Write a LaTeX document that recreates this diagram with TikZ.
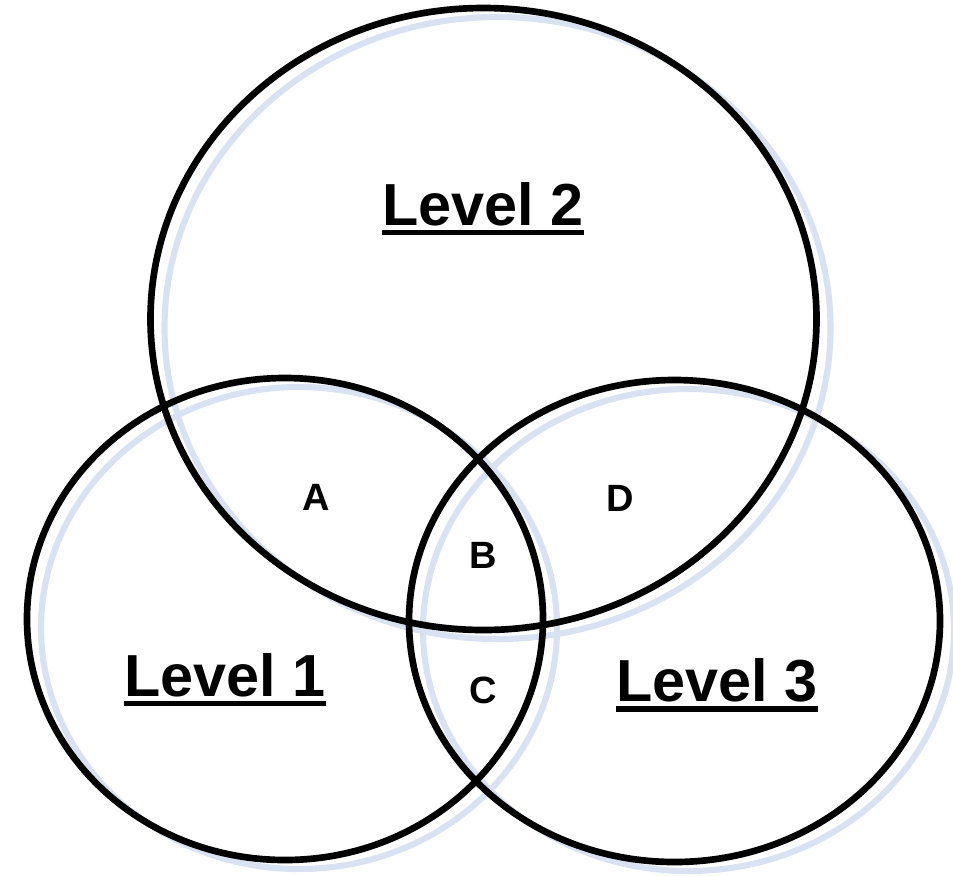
\documentclass[tikz,border=0pt]{standalone}
\usepackage{fontspec}
\setmainfont{Liberation Sans}
\newcommand\ulword[1]{\vtop{\hbox{#1}\kern3pt\hrule height 4pt}}
\definecolor{shadowblue}{RGB}{217,226,243}
\begin{document}
\begin{tikzpicture}[x=0.75pt,y=-0.75pt,line join=round,line cap=round,
	ring/.style={line width=5pt,draw=black},
	ringshadow/.style={line width=4.6pt,draw=shadowblue},
	lvl/.style={font=\fontsize{44.5}{50}\selectfont\bfseries},
	region/.style={font=\fontsize{28.5}{32}\selectfont\bfseries}]
	\useasboundingbox (0,0) rectangle (953,876);
	\def\sx{14}\def\sy{9}
	% shadows
	\draw[ringshadow] (483.5+\sx,319+\sy) ellipse (333 and 311);
	\draw[ringshadow] (285+\sx,619+\sy) ellipse (258 and 241);
	\draw[ringshadow] (674.5+\sx,621+\sy) ellipse (265.5 and 241);
	% rings
	\draw[ring] (483.5,319) ellipse (333 and 311);
	\draw[ring] (285,619) ellipse (258 and 241);
	\draw[ring] (674.5,621) ellipse (265.5 and 241);
	% labels
	\node[lvl] (lv2) at (483,209) {\ulword{Level 2}};
	\node[lvl] (lv1) at (225,680) {\ulword{Level 1}};
	\node[lvl] (lv3) at (717,685) {\ulword{Level 3}};
	\node[region] (ra) at (316,497) {A};
	\node[region] (rb) at (483,555) {B};
	\node[region] (rc) at (483,690) {C};
	\node[region] (rd) at (620,498) {D};
\end{tikzpicture}
\end{document}
